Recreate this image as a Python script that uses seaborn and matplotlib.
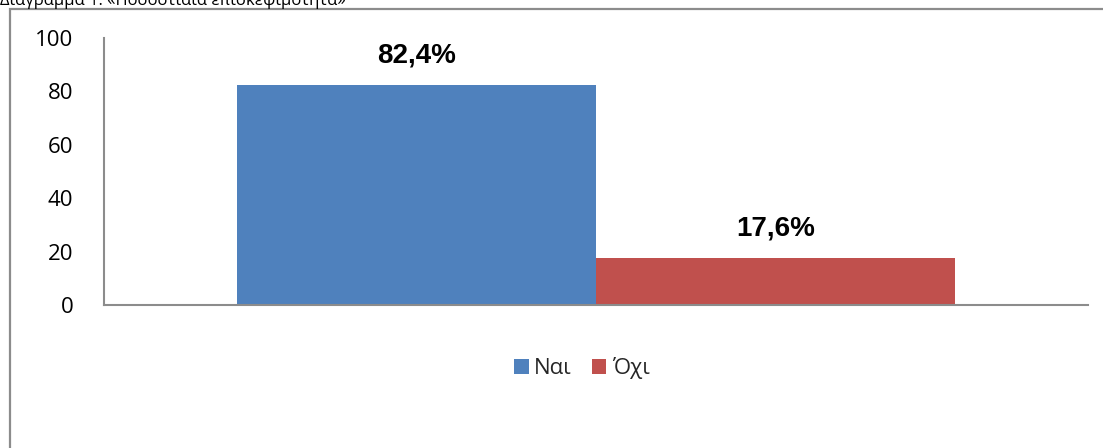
import matplotlib
matplotlib.use("Agg")
import matplotlib.pyplot as plt
from matplotlib.patches import Rectangle
import pandas as pd
import seaborn as sns

# Data
title = "Διάγραμμα 1: «Ποσοστιαία επισκεψιμότητα»"
categories = [""]
series = ["Ναι", "Όχι"]
values = [82.4, 17.6]
colors = ["#4F81BD", "#C0504D"]
yticks = [0, 20, 40, 60, 80, 100]

df = pd.DataFrame({
    "cat": categories * len(series),
    "series": series,
    "value": values,
})

sns.set_theme(style="white")
plt.rcParams["font.family"] = ["Open Sans", "DejaVu Sans"]

W, H = 1103, 448
fig = plt.figure(figsize=(W / 100, H / 100), dpi=100)
ax = fig.add_axes([104 / W, 1 - 305 / H, (1088 - 104) / W, (305 - 38) / H])

sns.barplot(data=df, x="cat", y="value", hue="series", palette=colors,
            width=0.7287, saturation=1, ax=ax, legend=False, linewidth=0)

ax.set_xlim(-0.5, 0.5)
ax.set_ylim(0, 100)
ax.set_yticks(yticks)
ax.set_yticklabels([str(t) for t in yticks], fontsize=16, color="#000000")
ax.tick_params(axis="y", length=0, pad=22)
ax.set_xticks([])
ax.set_xlabel("")
ax.set_ylabel("")

for side in ["top", "right"]:
    ax.spines[side].set_visible(False)
for side in ["left", "bottom"]:
    ax.spines[side].set_color("#8C8C8C")
    ax.spines[side].set_linewidth(1.5)

# Value labels
for cont in ax.containers:
    labels = [f"{v:.1f}".replace(".", ",") + "%" for v in cont.datavalues]
    ax.bar_label(cont, labels=labels, padding=12, fontsize=20,
                 fontweight="bold", family=["Liberation Sans", "DejaVu Sans"],
                 color="#000000")

# Legend
handles = [Rectangle((0, 0), 1, 1, facecolor=c, edgecolor="none") for c in colors]
fig.legend(handles, series, loc="center", bbox_to_anchor=(582 / W, 1 - 368 / H),
           ncol=2, frameon=False, fontsize=16, handlelength=0.65,
           handleheight=0.65, handletextpad=0.25, columnspacing=0.9)

# Outer chart frame
fig.patches.append(Rectangle((9.5 / W, -0.1), 1.2, 1 - 9.5 / H + 0.1,
                             transform=fig.transFigure, fill=False,
                             edgecolor="#8C8C8C", linewidth=1.6))

# Heading above the frame
fig.text(0.0, 1 - 5 / H, title, fontsize=12, ha="left", va="baseline",
         color="#000000")

fig.savefig("out.png", dpi=100)
